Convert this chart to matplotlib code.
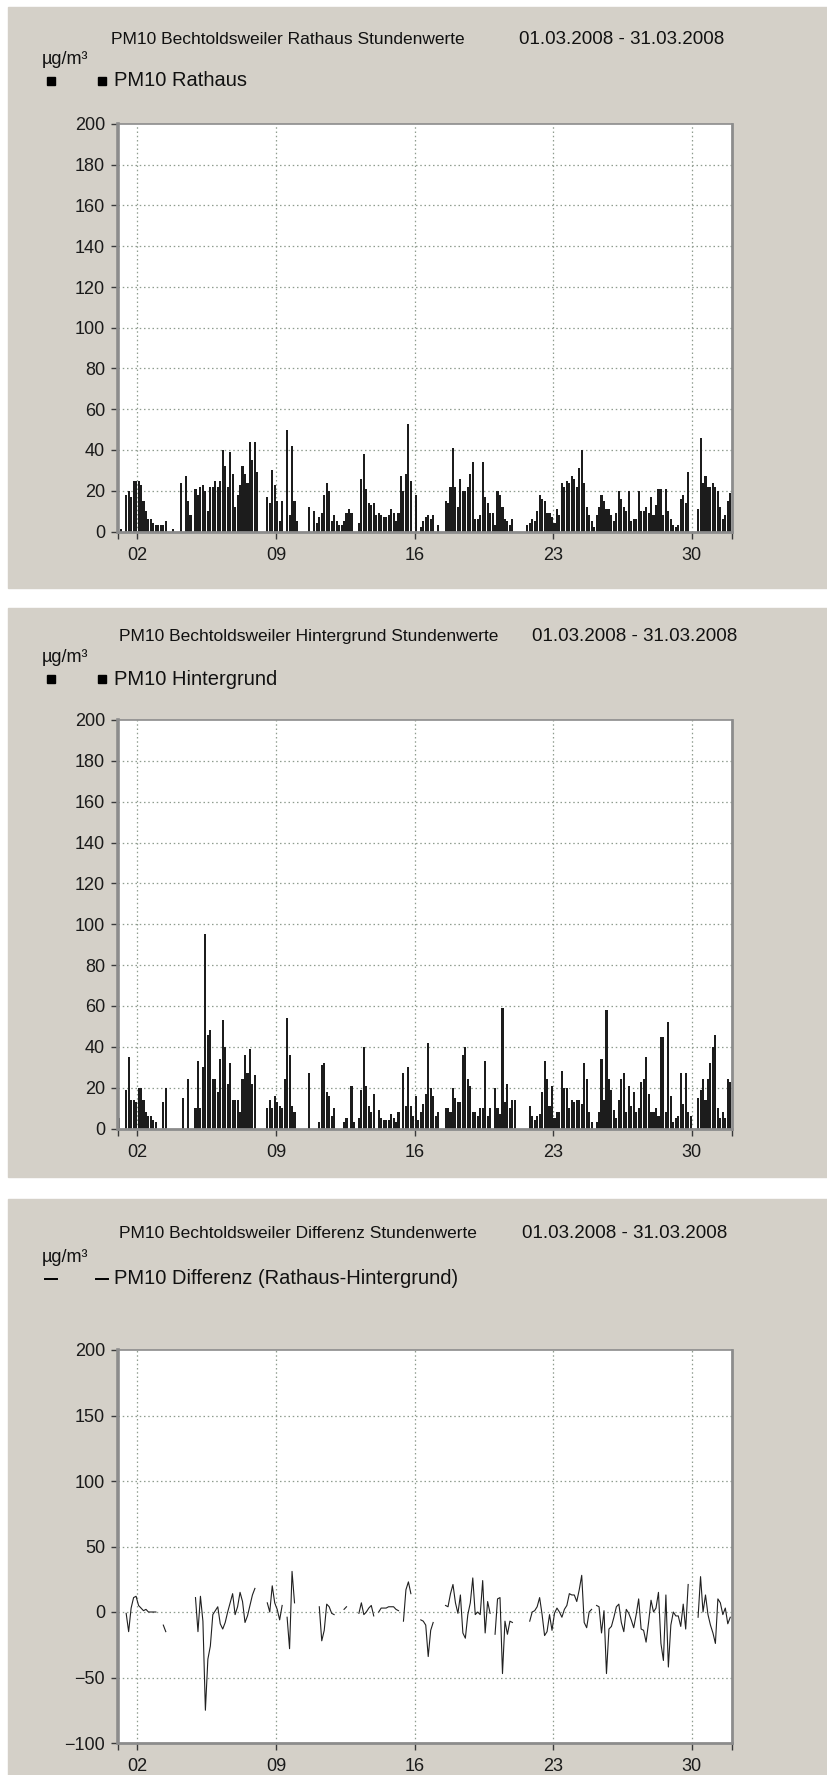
import numpy as np
import matplotlib.pyplot as plt
from matplotlib.lines import Line2D
from matplotlib.patches import Rectangle
from matplotlib import font_manager

nan = np.nan

rathaus = [
    nan, 1, nan, 18, 20, 17, 25, 25,     # 01
    25, 23, 15, 10, 6, 6, 4, 3,          # 02
    3, 3, 3, 5, nan, nan, 1, nan,        # 03
    nan, 24, nan, 27, 15, 8, nan, 21,    # 04
    18, 22, 23, 20, 10, 22, 22, 25,      # 05
    22, 25, 40, 32, 22, 39, 28, 12,      # 06
    18, 23, 32, 28, 24, 44, 35, 44,      # 07
    29, nan, nan, nan, 17, 14, 30, 23,   # 08
    15, 5, 15, nan, 50, 8, 42, 15,       # 09
    5, nan, nan, nan, nan, 12, nan, 10,  # 10
    4, 7, 9, 18, 24, 20, 5, 8,           # 11
    5, 3, 3, 5, 9, 11, 9, nan,           # 12
    nan, 4, 26, 38, 21, 14, 13, 14,      # 13
    8, 9, 8, 7, 7, 8, 11, 9,             # 14
    5, 9, 27, 20, 28, 53, 25, nan,       # 15
    18, nan, 2, 5, 7, 8, 6, 8,           # 16
    nan, 3, nan, nan, 15, 14, 22, 41,    # 17
    22, 12, 26, 20, 20, 22, 28, 34,      # 18
    6, 6, 8, 34, 17, 14, 9, 9,           # 19
    3, 20, 18, 12, 6, 5, 3, 6,           # 20
    nan, nan, nan, nan, nan, 3, 4, 6,    # 21
    5, 10, 18, 16, 15, 9, 9, 7,          # 22
    4, 11, 8, 24, 22, 25, 24, 27,        # 23
    26, 22, 31, 40, 24, 12, 8, 5,        # 24
    2, 8, 12, 18, 15, 11, 11, 8,         # 25
    5, 9, 20, 16, 12, 10, 20, 5,         # 26
    6, 6, 20, 10, 10, 12, 9, 17,         # 27
    8, 13, 21, 21, 8, 21, 10, 6,         # 28
    3, 2, 3, 16, 18, 14, 29, nan,        # 29
    nan, nan, 11, 46, 24, 27, 22, 22,    # 30
    24, 22, 20, 12, 6, 8, 15, 19,        # 31
]

hintergrund = [
    5, nan, nan, 19, 35, 14, 14, 13,     # 01
    20, 20, 14, 8, 6, 6, 4, 3,           # 02
    nan, nan, 13, 20, nan, nan, nan, nan,  # 03
    nan, nan, 15, nan, 24, nan, nan, 10,   # 04
    33, 10, 30, 95, 46, 48, 24, 24,      # 05
    18, 34, 53, 40, 22, 32, 14, 14,      # 06
    14, 8, 24, 36, 27, 39, 22, 26,       # 07
    nan, nan, nan, nan, 10, 14, 10, 16,  # 08
    13, 11, 10, 24, 54, 36, 11, 8,       # 09
    nan, nan, nan, nan, nan, 27, nan, nan,  # 10
    nan, 3, 31, 32, 18, 16, 6, 10,       # 11
    nan, nan, nan, 3, 5, nan, 21, 3,     # 12
    nan, 5, 19, 40, 21, 11, 8, 17,       # 13
    nan, 9, 5, 4, 4, 4, 7, 5,            # 14
    3, 8, nan, 27, 11, 30, 11, 6,        # 15
    16, 4, 8, 12, 17, 42, 20, 16,        # 16
    6, 8, nan, nan, 10, 10, 8, 20,       # 17
    15, 13, 13, 36, 40, 24, 21, 8,       # 18
    8, 6, 10, 10, 33, 6, 10, nan,        # 19
    20, 10, 7, 59, 13, 22, 10, 14,       # 20
    14, nan, nan, nan, nan, nan, 11, 6,  # 21
    4, 6, 7, 18, 33, 24, 11, 21,         # 22
    5, 8, 8, 28, 20, 20, 10, 14,         # 23
    13, 14, 14, 12, 32, 24, 8, 3,        # 24
    nan, 3, 8, 34, 14, 58, 24, 19,       # 25
    9, 5, 14, 24, 27, 8, 21, 11,         # 26
    18, 8, 10, 23, 24, 35, 17, 8,        # 27
    8, 10, 6, 45, 45, 8, 52, 16,         # 28
    3, 5, 6, 27, 12, 27, 8, 6,           # 29
    nan, nan, 15, 19, 24, 14, 24, 32,    # 30
    40, 46, 10, 5, 8, 5, 24, 23,         # 31
]

tick_days = [2, 9, 16, 23, 30]
tick_labels = ['02', '09', '16', '23', '30']
titles = ['PM10 Bechtoldsweiler Rathaus Stundenwerte',
          'PM10 Bechtoldsweiler Hintergrund Stundenwerte',
          'PM10 Bechtoldsweiler Differenz Stundenwerte']
period = '01.03.2008 - 31.03.2008'
legend_labels = ['PM10 Rathaus', 'PM10 Hintergrund',
                 'PM10 Differenz (Rathaus-Hintergrund)']
unit = 'µg/m³'

# time axis: day 1.0 = 01.03. 00:00, 32.0 = 01.04. 00:00
steps = np.arange(len(rathaus))
x = 1 + (steps + 0.5) / 8
r = np.array(rathaus, dtype=float)
h = np.array(hintergrund, dtype=float)
diff = r - h

W, H = 827, 1775
PANEL = '#d4d0c8'
GRID = '#8f9c8f'
SPINE = '#8c8c8c'

names = {f.name for f in font_manager.fontManager.ttflist}
if 'Liberation Sans Narrow' in names:
    head_font = ['Liberation Sans Narrow', 'DejaVu Sans']
    name_size, date_size = 15.5, 15.5
else:
    head_font = ['Liberation Sans', 'DejaVu Sans']
    name_size, date_size = 12.5, 13.5
tick_font = ['Liberation Sans', 'DejaVu Sans']

fig = plt.figure(figsize=(W / 100, H / 100), dpi=100)
fig.patch.set_facecolor('white')


def fx(px):
    return px / W


def fy(py):
    return 1 - py / H


def panel(top, bottom):
    fig.add_artist(Rectangle((fx(8), fy(bottom)), fx(W - 8), (bottom - top) / H,
                             transform=fig.transFigure, color=PANEL, zorder=-10))


def header(dy, i, title_left, period_right, marker, extra=0):
    fig.text(fx(title_left), fy(40 + dy), titles[i], family=head_font,
             fontsize=name_size, va='center', ha='left', color='#111111')
    fig.text(fx(period_right), fy(40 + dy), period, family=head_font,
             fontsize=date_size, va='center', ha='right', color='#111111')
    fig.text(fx(42), fy(59 + dy + extra), unit, family=head_font,
             fontsize=13, va='center', ha='left', color='#111111')
    ly = 81 + dy + extra
    fig.text(fx(114), fy(ly), legend_labels[i], family=head_font,
             fontsize=14.5, va='center', ha='left', color='#111111')
    for cx in (51, 102):
        if marker == 's':
            fig.add_artist(Line2D([fx(cx)], [fy(ly)], marker='s', markersize=5.5,
                                  color='black', lw=0, transform=fig.transFigure))
        else:
            fig.add_artist(Line2D([fx(cx - 6), fx(cx + 6)], [fy(ly)] * 2,
                                  color='black', lw=1.4, transform=fig.transFigure))


def make_axes(top, bottom, ymin, ymax, ystep):
    left, right = 117.5, 731.5
    ax = fig.add_axes([fx(left), fy(bottom), (right - left) / W, (bottom - top) / H])
    ax.set_facecolor('white')
    ax.set_xlim(1, 32)
    ax.set_ylim(ymin, ymax)
    ax.set_xticks([1] + tick_days + [32])
    ax.set_xticklabels([''] + tick_labels + [''])
    ax.set_yticks(np.arange(ymin, ymax + 1, ystep))
    for yv in np.arange(ymin + ystep, ymax, ystep):
        ax.axhline(yv, color=GRID, lw=0.9, ls=(0, (1.2, 2.2)), zorder=1)
    for d in tick_days:
        ax.axvline(d, color=GRID, lw=0.9, ls=(0, (1.2, 2.2)), zorder=1)
    for s in ax.spines.values():
        s.set_color(SPINE)
        s.set_linewidth(2)
    ax.spines['left'].set_linewidth(2.6)
    ax.spines['top'].set_linewidth(1.2)
    ax.tick_params(axis='both', colors='#3a3a3a', labelcolor='#1a1a1a',
                   labelsize=13, length=5, width=1)
    ax.tick_params(axis='x', pad=6)
    ax.tick_params(axis='y', pad=4)
    for lab in ax.get_xticklabels() + ax.get_yticklabels():
        lab.set_family(tick_font)
    return ax


# panels
panel(7, 588)
panel(608, 1177)
panel(1199, H)

# 1: Rathaus
header(0, 0, 111, 724, 's')
ax1 = make_axes(124, 531.5, 0, 200, 20)
ax1.bar(x, r, width=0.105, color='#1c1c1c', linewidth=0, zorder=2)

# 2: Hintergrund
header(597, 1, 119, 737, 's', extra=1)
ax2 = make_axes(720, 1128.5, 0, 200, 20)
ax2.bar(x, h, width=0.105, color='#1c1c1c', linewidth=0, zorder=2)

# 3: Differenz
header(1193, 2, 119, 727, '-', extra=5)
ax3 = make_axes(1350, 1743, -100, 200, 50)
ax3.plot(x, diff, color='#202020', lw=0.8, zorder=2)

fig.savefig('out.png', dpi=100, facecolor='white')
